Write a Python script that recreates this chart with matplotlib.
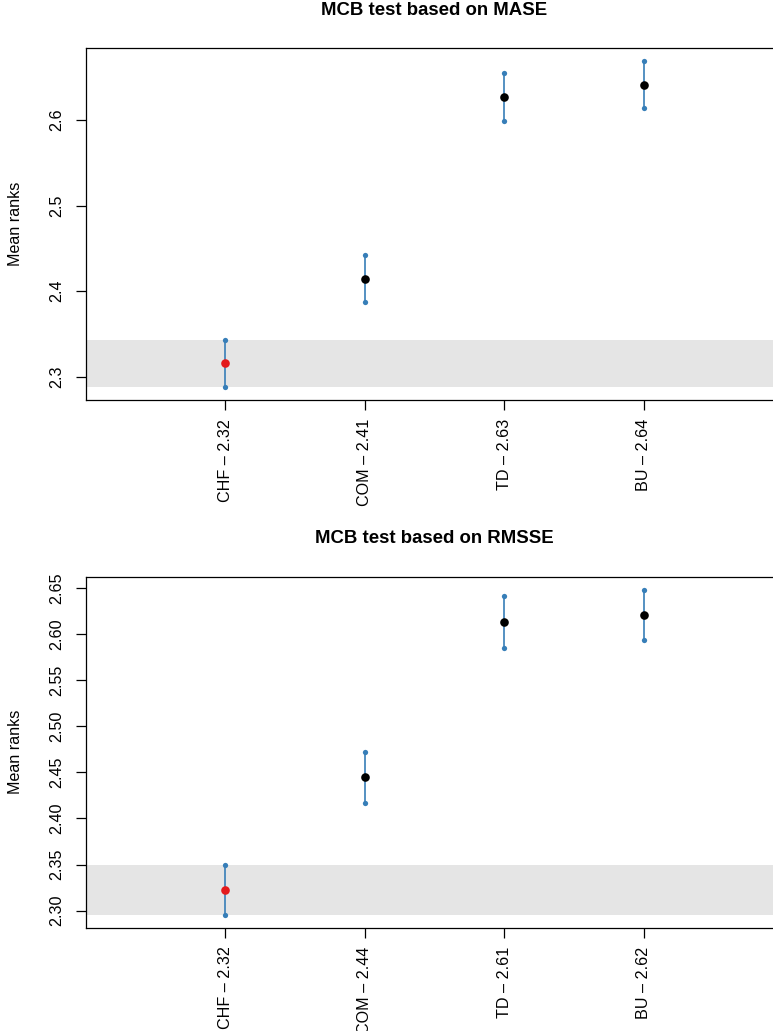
import matplotlib
matplotlib.use("Agg")
import matplotlib.pyplot as plt

plt.rcParams["font.family"] = ["Liberation Sans", "DejaVu Sans"]

methods = ["CHF", "COM", "TD", "BU"]
positions = [1, 2, 3, 4]

# MCB based on MASE
mase_mean = [2.316, 2.414, 2.627, 2.641]
mase_lower = [2.288, 2.387, 2.599, 2.614]
mase_upper = [2.343, 2.442, 2.655, 2.669]
mase_yticks = [2.3, 2.4, 2.5, 2.6]
mase_ylim = (2.2727, 2.684)

# MCB based on RMSSE
rmsse_mean = [2.322, 2.445, 2.613, 2.620]
rmsse_lower = [2.295, 2.417, 2.585, 2.593]
rmsse_upper = [2.350, 2.472, 2.641, 2.648]
rmsse_yticks = [2.30, 2.35, 2.40, 2.45, 2.50, 2.55, 2.60, 2.65]
rmsse_ylim = (2.2816, 2.662)

BLUE = "#377EB8"
RED = "#E41A1C"
BAND = "#E5E5E5"
FS = 11.6


def mcb_panel(ax, title, mean, lower, upper, yticks, ylim, fmt):
    best = min(range(len(mean)), key=lambda i: mean[i])
    ax.axhspan(lower[best], upper[best], color=BAND, zorder=0, lw=0)
    for i, x in enumerate(positions):
        ax.plot([x, x], [lower[i], upper[i]], color=BLUE, lw=1.2, zorder=2)
        ax.plot([x, x], [lower[i], upper[i]], "o", color=BLUE, ms=3.8,
                mew=0, zorder=3)
        ax.plot(x, mean[i], "o", color=RED if i == best else "black",
                ms=6.2, mew=0, zorder=4)
    ax.set_xlim(0, 5)
    ax.set_ylim(*ylim)
    ax.set_xticks(positions)
    ax.set_xticklabels([f"{m} \u2013 {v:.2f}" for m, v in zip(methods, mean)],
                       rotation=90, va="top", fontsize=FS)
    ax.set_yticks(yticks)
    ax.set_yticklabels([fmt.format(v) for v in yticks], rotation=90,
                       va="center", fontsize=FS)
    ax.tick_params(axis="x", length=7.5, width=0.9, pad=6)
    ax.tick_params(axis="y", length=7.5, width=0.9, pad=8)
    for s in ax.spines.values():
        s.set_linewidth(0.9)
    ax.set_ylabel("Mean ranks", fontsize=FS)
    ax.yaxis.set_label_coords(-0.090, 0.5)
    ax.annotate(title, xy=(0.5, 1), xycoords="axes fraction",
                xytext=(0, 38), textcoords="offset pixels",
                ha="center", va="center", fontsize=13.4, fontweight="bold")


fig = plt.figure(figsize=(7.73, 10.31), dpi=100)
ax1 = fig.add_axes([86 / 773, 1 - 400 / 1031, 697 / 773, 351.7 / 1031])
ax2 = fig.add_axes([86 / 773, 1 - 927.7 / 1031, 697 / 773, 351 / 1031])

mcb_panel(ax1, "MCB test based on MASE", mase_mean, mase_lower, mase_upper,
          mase_yticks, mase_ylim, "{:.1f}")
mcb_panel(ax2, "MCB test based on RMSSE", rmsse_mean, rmsse_lower,
          rmsse_upper, rmsse_yticks, rmsse_ylim, "{:.2f}")

fig.savefig("out.png", dpi=100)
